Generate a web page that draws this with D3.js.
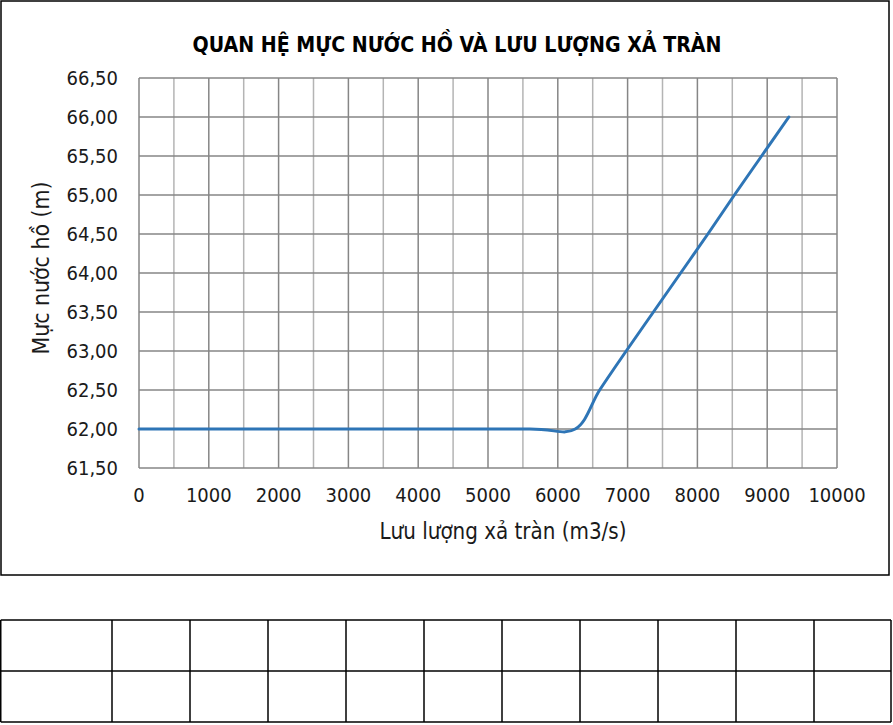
<!DOCTYPE html>
<meta charset="utf-8">
<style>
body { margin: 0; background: #fff; }
text { font-family: "Liberation Sans Narrow", "DejaVu Sans Condensed", Lato, sans-serif; fill: #000; }
.title { font-weight: bold; font-size: 22px; }
.tick text { font-size: 20px; fill: #1a1a1a; }
.axis-title { font-size: 23px; fill: #1a1a1a; }
</style>
<body>
<svg width="893" height="725"></svg>
</body>
<script src="https://d3js.org/d3.v7.min.js"></script>
<script>

// luu luong xa tran (m3/s) vs muc nuoc ho (m)
var discharge = [0, 2000, 4000, 5600, 6250, 6600, 6980, 7370, 7760, 8150, 8530, 8920, 9310];
var waterLevel = [62.00, 62.00, 62.00, 62.00, 62.00, 62.50, 63.00, 63.50, 64.00, 64.50, 65.00, 65.50, 66.00];
var xTicks = [0, 1000, 2000, 3000, 4000, 5000, 6000, 7000, 8000, 9000, 10000];
var yTicks = [61.5, 62, 62.5, 63, 63.5, 64, 64.5, 65, 65.5, 66, 66.5];

var titleText = "QUAN HỆ MỰC NƯỚC HỒ VÀ LƯU LƯỢNG XẢ TRÀN",
    xTitle = "Lưu lượng xả tràn (m3/s)",
    yTitle = "Mực nước hồ (m)";

var svg = d3.select("svg");

var x = d3.scaleLinear().domain([0, 10000]).range([139, 837]),
    y = d3.scaleLinear().domain([61.5, 66.5]).range([468, 78]);

// chart frame
svg.append("rect")
    .attr("x", 1).attr("y", 1)
    .attr("width", 888).attr("height", 574)
    .attr("fill", "#fff")
    .attr("stroke", "#000")
    .attr("stroke-width", 1.5);

svg.append("text")
    .attr("class", "title")
    .attr("x", 457).attr("y", 52)
    .attr("text-anchor", "middle")
    .attr("textLength", 529)
    .attr("lengthAdjust", "spacingAndGlyphs")
    .text(titleText);

// grid: minor verticals every 500, majors every 1000
var g = svg.append("g");
g.selectAll(".minor")
  .data(d3.range(500, 10000, 1000))
  .enter().append("line")
    .attr("x1", x).attr("x2", x)
    .attr("y1", y(61.5)).attr("y2", y(66.5))
    .attr("stroke", "#b4b4b4")
    .attr("stroke-width", 1.5);

g.selectAll(".majorx")
  .data(xTicks)
  .enter().append("line")
    .attr("x1", x).attr("x2", x)
    .attr("y1", y(61.5)).attr("y2", y(66.5))
    .attr("stroke", "#868686")
    .attr("stroke-width", 1.5);

g.selectAll(".majory")
  .data(yTicks)
  .enter().append("line")
    .attr("x1", x(0)).attr("x2", x(10000))
    .attr("y1", y).attr("y2", y)
    .attr("stroke", "#868686")
    .attr("stroke-width", 1.5);

var fmt = function(d) { return d3.format(".2f")(d).replace(".", ","); };

svg.append("g")
    .attr("class", "tick")
  .selectAll("text")
  .data(yTicks)
  .enter().append("text")
    .attr("x", 118)
    .attr("y", function(d) { return y(d) + 7; })
    .attr("text-anchor", "end")
    .text(fmt);

svg.append("g")
    .attr("class", "tick")
  .selectAll("text")
  .data(xTicks)
  .enter().append("text")
    .attr("x", x)
    .attr("y", 502)
    .attr("text-anchor", "middle")
    .text(function(d) { return d; });

svg.append("text")
    .attr("class", "axis-title")
    .attr("x", 503).attr("y", 539)
    .attr("text-anchor", "middle")
    .attr("textLength", 247)
    .attr("lengthAdjust", "spacingAndGlyphs")
    .text(xTitle);

svg.append("text")
    .attr("class", "axis-title")
    .attr("transform", "translate(49,268) rotate(-90)")
    .attr("text-anchor", "middle")
    .attr("textLength", 173)
    .attr("lengthAdjust", "spacingAndGlyphs")
    .text(yTitle);

var line = d3.line()
    .x(function(d, i) { return x(discharge[i]); })
    .y(function(d) { return y(d); })
    .curve(d3.curveCardinal.tension(0));

svg.append("path")
    .datum(waterLevel)
    .attr("d", line)
    .attr("fill", "none")
    .attr("stroke", "#2e75b6")
    .attr("stroke-width", 3)
    .attr("stroke-linecap", "round");

// empty table under the chart
var colEdges = [0, 112].concat(d3.range(1, 11).map(function(i) { return 112 + i * 78; }));
colEdges[colEdges.length - 1] = 891;
var rowEdges = [620, 671, 722];
var t = svg.append("g").attr("stroke", "#000").attr("stroke-width", 1.5);
t.selectAll(".h")
  .data(rowEdges)
  .enter().append("line")
    .attr("x1", 0.75).attr("x2", 891)
    .attr("y1", function(d) { return d; }).attr("y2", function(d) { return d; });
t.selectAll(".v")
  .data(colEdges)
  .enter().append("line")
    .attr("x1", function(d) { return Math.max(d, 0.75); })
    .attr("x2", function(d) { return Math.max(d, 0.75); })
    .attr("y1", 620).attr("y2", 722);

</script>
